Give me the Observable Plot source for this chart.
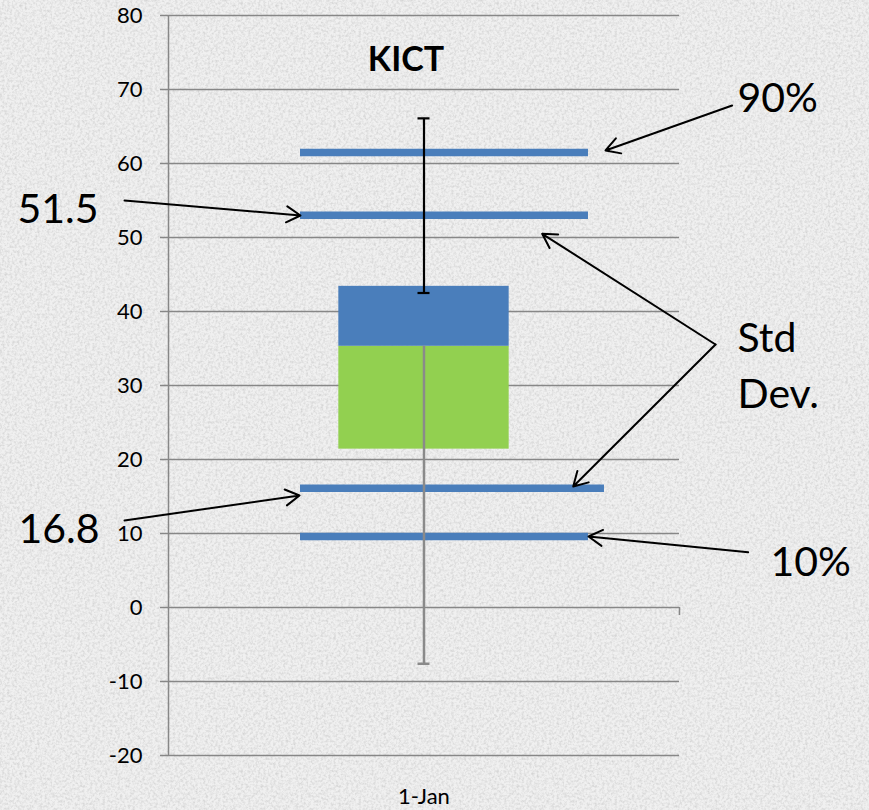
<!DOCTYPE html>
<html>
<head>
<meta charset="utf-8">
<script src="https://cdn.jsdelivr.net/npm/d3@7"></script>
<script src="https://cdn.jsdelivr.net/npm/@observablehq/plot@0.6"></script>
<style>
html, body { margin: 0; padding: 0; }
body {
  width: 869px; height: 810px; overflow: hidden;
  background-color: #ebebeb;
  background-image: url("data:image/svg+xml;utf8,<svg xmlns='http://www.w3.org/2000/svg' width='256' height='256'><filter id='n' x='0' y='0' width='100%25' height='100%25'><feTurbulence type='fractalNoise' baseFrequency='0.4' numOctaves='4' stitchTiles='stitch'/><feColorMatrix type='matrix' values='0 0 0 0 0.55  0 0 0 0 0.55  0 0 0 0 0.55  0 0 0 1.8 -0.7'/></filter><rect width='256' height='256' fill='%23f0f0f0'/><rect width='256' height='256' filter='url(%23n)' opacity='0.7'/></svg>");
}
#chart svg { display: block; }
</style>
</head>
<body>
<div id="chart"></div>
<script>
// ---- data ----
const categories = ["1-Jan"];
const boxLow = [21.4];      // bottom of green block
const boxMid = [35.3];      // green / blue boundary
const boxHigh = [43.4];     // top of blue block
const upperBar = [42.5, 66.1];  // black error bar (low, high)
const lowerBar = [-7.6, 35.3];  // grey error bar (low, high)
const levels = [61.5, 53.0, 16.1, 9.6];          // horizontal blue markers
const levelLabels = ["90%", "51.5", "16.8", "10%"];
const stdLabel = "Std\nDev.";
const yTicks = [-20, -10, 0, 10, 20, 30, 40, 50, 60, 70, 80];
const title = "KICT";

// ---- styling constants ----
const blue = "#4a7ebb";
const green = "#92d050";
const gridColor = "#878787";
const barW = 1 / 3;             // box width as share of the category slot
const font = "Lato, 'Open Sans', sans-serif";

const rows = categories.map((c, i) => ({cat: c, pos: i + 0.5, low: boxLow[i], mid: boxMid[i], high: boxHigh[i]}));
const center = rows[0].pos;

const levelRows = levels.map((v, i) => ({v, x1: 0.2583, x2: i === 2 ? 0.8532 : 0.8219}));

const arrows = [
  {x1: 1.103, y1: 67.84, x2: 0.8552, y2: 61.76},
  {x1: -0.0861, y1: 55.0, x2: 0.2583, y2: 52.97},
  {x1: 1.0705, y1: 35.54, x2: 0.7313, y2: 50.5},
  {x1: 1.0705, y1: 35.54, x2: 0.792, y2: 16.35},
  {x1: -0.0861, y1: 11.76, x2: 0.2564, y2: 15.14},
  {x1: 1.1344, y1: 7.47, x2: 0.8219, y2: 9.59}
];

const labels = [
  {text: levelLabels[0], x: 1.1135, y: 67.0},
  {text: levelLabels[1], x: -0.2955, y: 51.9},
  {text: levelLabels[2], x: -0.2935, y: 8.65},
  {text: levelLabels[3], x: 1.178, y: 4.32},
  {text: stdLabel, x: 1.1135, y: 27.0}
];

const chart = Plot.plot({
  width: 869,
  height: 810,
  marginLeft: 168,
  marginRight: 190,
  marginTop: 15,
  marginBottom: 55,
  style: {fontFamily: font, background: "transparent", overflow: "visible"},
  x: {domain: [0, 1]},
  y: {domain: [-20, 80]},
  marks: [
    Plot.gridY(yTicks, {stroke: gridColor, strokeOpacity: 1, strokeWidth: 1.5}),
    Plot.axisY({ticks: yTicks, tickSize: 8, tickPadding: 18, stroke: gridColor, strokeWidth: 1.5,
      fill: "black", fontSize: 22, tickFormat: d => String(d), label: null}),
    Plot.axisX({ticks: rows.map(d => d.pos), tickSize: 0, tickPadding: 33, fontSize: 22,
      fill: "black", tickFormat: (d, i) => categories[i], label: null}),
    Plot.ruleX([0], {stroke: gridColor, strokeWidth: 1.5}),
    Plot.ruleX([1], {y1: () => 0, y2: () => 0, insetBottom: -8, stroke: gridColor, strokeWidth: 1.5}),
    // stacked box
    Plot.rect(rows, {x1: d => d.pos - barW / 2, x2: d => d.pos + barW / 2, y1: "low", y2: "mid", fill: green}),
    Plot.rect(rows, {x1: d => d.pos - barW / 2, x2: d => d.pos + barW / 2, y1: "mid", y2: "high", fill: blue}),
    // blue level markers
    Plot.ruleY(levelRows, {y: "v", x1: "x1", x2: "x2", stroke: blue, strokeWidth: 7.5}),
    // grey error bar
    Plot.ruleX([center], {y1: () => lowerBar[0], y2: () => lowerBar[1], stroke: "#8a8a8a", strokeWidth: 2.5}),
    Plot.ruleY([lowerBar[0]], {x1: () => center, x2: () => center, insetLeft: -6, insetRight: -6, stroke: "#8a8a8a", strokeWidth: 2.5}),
    // black error bar
    Plot.ruleX([center], {y1: () => upperBar[0], y2: () => upperBar[1], stroke: "black", strokeWidth: 2.2}),
    Plot.ruleY(upperBar, {x1: () => center, x2: () => center, insetLeft: -6, insetRight: -6, stroke: "black", strokeWidth: 2.2}),
    // annotation arrows
    Plot.arrow(arrows, {x1: "x1", y1: "y1", x2: "x2", y2: "y2", stroke: "black", strokeWidth: 2, headLength: 12, headAngle: 60}),
    // annotation labels
    Plot.text(labels, {x: "x", y: "y", text: "text", textAnchor: "start", lineAnchor: "bottom", lineHeight: 1.37,
      fontSize: 41, fontFamily: font, fill: "black"}),
    // title
    Plot.text([title], {x: () => 0.4648, y: () => 72.5, text: d => d, textAnchor: "middle", lineAnchor: "bottom",
      fontSize: 34, fontWeight: "bold", fontFamily: font, fill: "black"})
  ]
});
document.getElementById("chart").appendChild(chart);
</script>
</body>
</html>
